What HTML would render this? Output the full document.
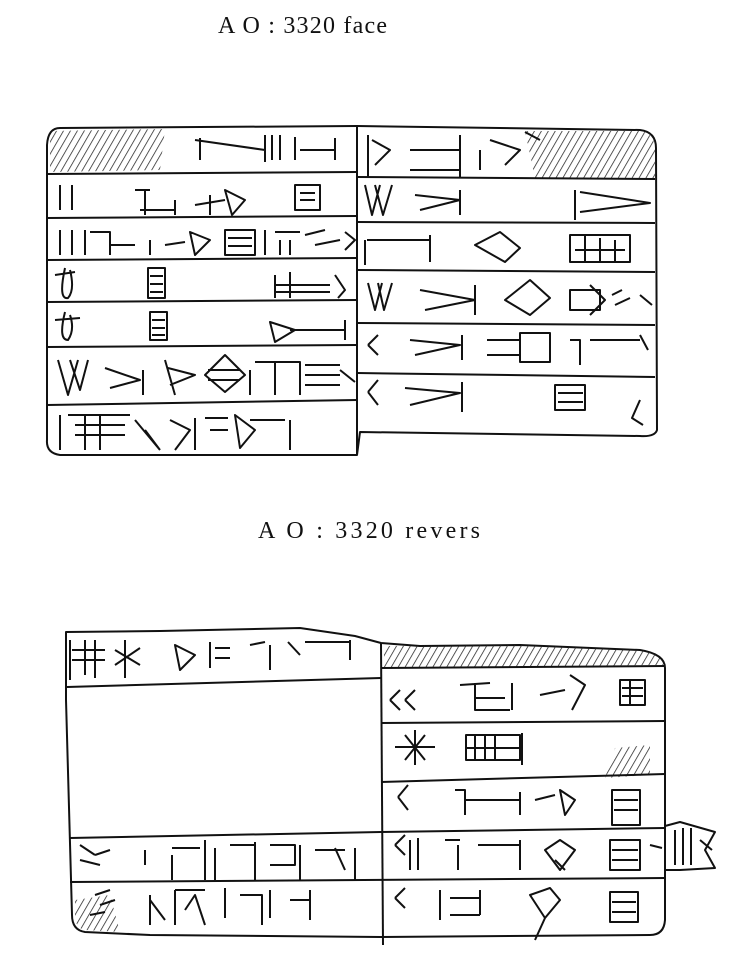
<!DOCTYPE html>
<html><head><meta charset="utf-8"><style>
html,body{margin:0;padding:0;background:#fff;}
svg{display:block}
text{font-family:"Liberation Serif",serif;font-size:24px;fill:#111}
</style></head><body>
<svg width="745" height="978" viewBox="0 0 745 978" xmlns="http://www.w3.org/2000/svg">
<defs>
<pattern id="h" width="6" height="6" patternUnits="userSpaceOnUse" patternTransform="rotate(30)">
<line x1="0" y1="0" x2="0" y2="6" stroke="#222" stroke-width="1.5"/></pattern>
</defs>
<text x="218" y="33" textLength="169" lengthAdjust="spacing">A O : 3320 face</text>
<text x="258" y="538" textLength="222" lengthAdjust="spacing">A O : 3320 revers</text>
<g fill="none" stroke="#111" stroke-width="2" stroke-linejoin="round">
<!-- top tablet -->
<path d="M60 128 L357 126 L640 130 Q656 132 656 148 L657 430 Q655 437 640 436 L360 432 L357 455 L60 455 Q46 453 47 440 L47 145 Q48 128 60 128 Z"/>
<line x1="357" y1="126" x2="357" y2="455"/>
<path d="M50 131 L165 129 L160 170 L50 172 Z" fill="url(#h)" stroke="none"/>
<path d="M525 131 L640 131 Q655 133 655 150 L655 178 L535 178 Z" fill="url(#h)" stroke="none"/>
<line x1="47" y1="174" x2="357" y2="172"/>
<line x1="47" y1="218" x2="357" y2="216"/>
<line x1="47" y1="260" x2="357" y2="258"/>
<line x1="47" y1="302" x2="357" y2="300"/>
<line x1="47" y1="347" x2="357" y2="345"/>
<line x1="47" y1="405" x2="357" y2="400"/>
<line x1="357" y1="177" x2="655" y2="179"/>
<line x1="357" y1="222" x2="655" y2="223"/>
<line x1="357" y1="270" x2="655" y2="272"/>
<line x1="357" y1="323" x2="655" y2="325"/>
<line x1="357" y1="373" x2="655" y2="377"/>
<!-- top-left glyphs -->
<path d="M195 140 L265 150 M200 138 L200 160 M265 135 V162 M272 135 V160 M280 135 V160 M295 137 V160 M300 150 H335 M335 138 V160"/>
<path d="M60 185 V210 M72 185 V210 M135 190 H150 M145 190 V215 M140 210 H175 M175 200 V215 M195 205 L225 200 M210 195 V215 M225 190 L245 200 L232 215 Z M295 185 H320 V210 H295 Z M300 193 H315 M300 200 H315"/>
<path d="M60 230 V255 M72 230 V255 M85 230 V255 M90 232 H110 V255 M110 245 H135 M150 240 V255 M165 245 L185 242 M190 232 L210 240 L195 255 Z M225 230 H255 V255 H225 Z M228 238 H252 M228 246 H252 M265 230 V255 M275 232 H300 M280 240 V255 M290 240 V255 M305 235 L325 230 M315 245 L340 240 M345 232 L355 240 L345 250"/>
<path d="M55 275 L75 272 M65 268 Q58 300 68 298 Q75 290 70 270 M148 268 H165 V298 H148 Z M150 276 H163 M150 284 H163 M150 292 H163 M275 275 V298 M290 272 V298 M275 285 H330 M275 292 H330 M335 275 L345 290 L338 298"/>
<path d="M55 320 L80 318 M65 312 Q58 340 68 340 Q75 330 70 315 M150 312 H167 V340 H150 Z M152 320 H165 M152 328 H165 M152 335 H165 M270 322 L295 330 L275 342 Z M290 330 H345 M345 320 V340"/>
<path d="M58 360 L68 395 L78 360 M70 360 L80 390 L88 360 M105 368 L140 380 L110 388 M143 370 V395 M165 360 L175 395 M168 368 L195 375 L170 385 M205 375 L225 355 L245 375 L225 392 Z M208 370 H240 M208 380 H240 M250 370 V395 M255 362 H300 V395 M275 362 V395 M305 365 H340 M305 375 H340 M305 385 H340 M340 370 L355 382"/>
<path d="M60 415 V450 M68 415 H130 M75 425 H125 M75 435 H125 M85 415 V450 M100 415 V450 M135 420 L160 450 M145 430 L160 450 M170 420 L190 430 L175 450 M195 418 V450 M205 418 H228 M210 430 H228 M235 415 L255 430 L240 448 Z M250 420 H285 M290 420 V450"/>
<!-- top-right glyphs -->
<path d="M368 135 V178 M372 140 L390 150 L375 165 M410 150 H460 M410 170 H460 M460 135 V178 M480 150 V170 M490 140 L520 150 L505 165 M525 132 L540 140"/>
<path d="M365 185 L372 215 L380 185 M375 185 L383 215 L392 185 M415 195 L460 200 L420 210 M460 190 V215 M575 190 V220 M580 192 L650 203 L580 212"/>
<path d="M365 240 V265 M367 240 H430 M430 235 V262 M475 245 L500 232 L520 248 L505 262 Z M570 235 H630 V262 H570 Z M585 235 V262 M600 238 V262 M615 240 V262 M575 250 H625"/>
<path d="M368 283 L375 310 L382 283 M378 283 L384 310 L392 283 M420 290 L475 300 L425 310 M475 285 V315 M505 300 L530 280 L550 298 L530 315 Z M570 290 H600 V310 H570 Z M590 285 L605 300 L590 315 M612 295 L622 290 M615 305 L630 298 M640 295 L652 305"/>
<path d="M368 345 L378 335 M368 345 L378 355 M410 340 L460 345 L415 355 M462 335 V360 M487 340 H520 M487 355 H520 M520 333 H550 V362 H520 Z M570 340 H580 V365 M590 340 H640 M640 335 L648 350"/>
<path d="M368 392 L378 380 M368 392 L378 405 M405 388 L460 393 L410 405 M462 382 V412 M555 385 H585 V410 H555 Z M558 393 H583 M558 402 H583 M640 400 L632 418 L643 425"/>
<!-- bottom tablet -->
<path d="M66 632 L160 631 L300 628 L355 636 L381 643 L420 646 L520 645 L640 650 Q665 654 665 668 L665 920 Q664 935 650 935 L381 937 L150 935 L85 932 Q72 930 72 915 L66 700 Z"/>
<line x1="381" y1="643" x2="383" y2="945"/>
<path d="M384 646 L520 645 L640 650 Q663 653 663 665 L384 668 Z" fill="url(#h)" stroke="none"/>
<path d="M615 748 L650 745 L650 775 L605 778 Z" fill="url(#h)" stroke="none"/>
<path d="M75 900 L110 895 L120 932 L85 930 Q75 928 75 915 Z" fill="url(#h)" stroke="none"/>
<line x1="67" y1="687" x2="381" y2="678"/>
<line x1="381" y1="668" x2="665" y2="666"/>
<line x1="381" y1="723" x2="665" y2="721"/>
<line x1="381" y1="782" x2="665" y2="774"/>
<line x1="70" y1="838" x2="381" y2="832"/>
<line x1="381" y1="832" x2="665" y2="828"/>
<line x1="70" y1="882" x2="665" y2="878"/>
<path d="M665 826 L680 822 L715 832 L705 850 L715 868 L680 870 L665 870"/>
<path d="M675 830 V865 M683 828 V865 M691 828 V865 M700 840 L712 850"/>
<!-- bottom glyphs left top -->
<path d="M70 640 V680 M72 650 H105 M72 660 H105 M85 640 V675 M95 640 V678 M115 650 L140 665 M115 665 L140 648 M125 640 V678 M175 645 L195 655 L180 670 Z M210 642 V668 M215 648 H230 M215 658 H230 M250 645 L265 642 M270 645 V670 M288 642 L300 655 M305 642 H350 M350 640 V660"/>
<path d="M95 855 L80 845 M95 855 L110 850 M80 860 L100 865 M145 850 V865 M172 855 V880 M172 848 H200 M205 840 V880 M215 848 V880 M230 845 H255 M255 842 V880 M270 845 H295 V865 H270 M300 845 V880 M315 850 H345 M355 848 V880 M335 848 L345 870"/>
<path d="M95 895 L110 890 M100 905 L115 900 M90 915 L105 912 M150 895 V925 M150 900 L165 920 M175 890 V925 M175 890 H205 M185 910 L195 895 L205 925 M225 888 V918 M240 895 H262 V925 M270 890 V918 M290 900 H310 M310 890 V920"/>
<!-- bottom glyphs right -->
<path d="M390 700 L400 690 M390 700 L400 710 M405 700 L415 690 M405 700 L415 710 M460 685 L490 683 M475 683 V710 H510 M475 698 H505 M512 683 V710 M540 695 L565 690 M570 675 L585 685 L572 710 M620 680 H645 V705 H620 Z M622 688 H643 M622 696 H643 M630 680 V705"/>
<path d="M395 747 H435 M405 735 L425 760 M425 735 L405 760 M415 730 V765 M466 735 H520 V760 H466 Z M475 735 V760 M485 735 V760 M495 735 V760 M466 748 H520 M522 733 V765"/>
<path d="M398 797 L408 785 M398 797 L408 810 M455 790 H465 V815 M465 800 H520 M520 792 V815 M535 800 L555 795 M560 790 L575 800 L565 815 Z M612 790 H640 V825 H612 Z M614 800 H638 M614 810 H638"/>
<path d="M395 845 L405 835 M395 845 L405 855 M410 840 V870 M418 838 V870 M445 840 H460 M458 845 V870 M478 845 H520 M520 840 V870 M545 850 L560 840 L575 850 L560 870 Z M555 860 L565 870 M610 840 H640 V870 H610 Z M612 850 H638 M612 860 H638 M650 845 L662 848"/>
<path d="M395 898 L405 888 M395 898 L405 908 M440 890 V920 M450 898 H480 M480 890 V915 M450 915 H480 M530 895 L550 888 L560 900 L545 918 Z M545 918 L535 940 M610 892 H638 V922 H610 Z M612 902 H636 M612 912 H636"/>
</g>
</svg>
</body></html>
